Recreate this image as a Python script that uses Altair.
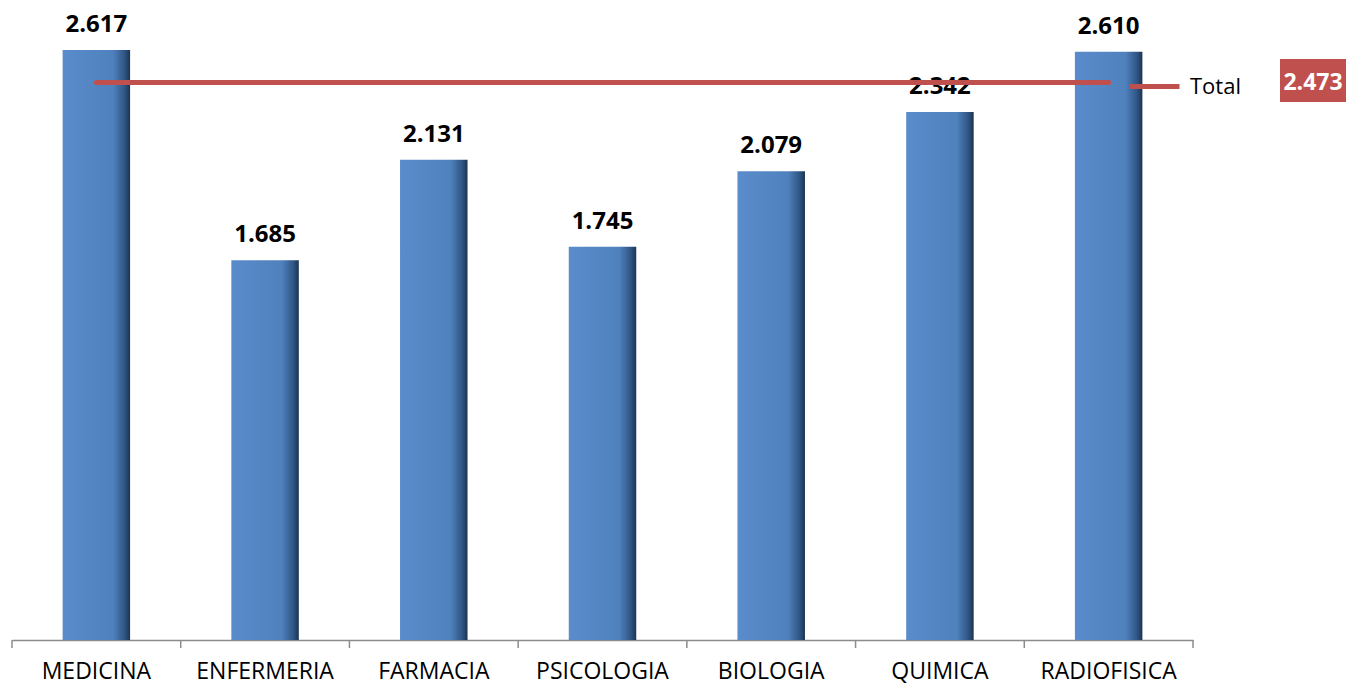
import altair as alt
import pandas as pd

categories = ["MEDICINA", "ENFERMERIA", "FARMACIA", "PSICOLOGIA", "BIOLOGIA", "QUIMICA", "RADIOFISICA"]
values = [2617, 1685, 2131, 1745, 2079, 2342, 2610]
total_value = 2473
total_name = "Total"

bars_df = pd.DataFrame({"cat": categories, "v": values})
total_df = pd.DataFrame({"cat": [categories[0], categories[-1]], "v": [total_value, total_value], "series": [total_name, total_name]})
box_df = pd.DataFrame({"v": [total_value]})
last_df = pd.DataFrame({"cat": [categories[-1]]})

FONT = "Open Sans"
W, H = 1181, 628
AXIS_GREY = "#8c8c8c"
PAD_IN, PAD_OUT = 0.6, 0.3
GAP = W / len(categories) * PAD_OUT  # distance from bar edge to category boundary

x_scale = alt.Scale(paddingInner=PAD_IN, paddingOuter=PAD_OUT)
x_enc = alt.X("cat:N", sort=categories, title=None, scale=x_scale,
              axis=alt.Axis(ticks=False, labelAngle=0, labelFontSize=23, labelFont=FONT,
                            labelColor="#000000", labelPadding=20,
                            domainColor=AXIS_GREY, domainWidth=1.5))
y_scale = alt.Scale(domain=[0, 2786], nice=False)

bar_fill = alt.Gradient(
    gradient="linear",
    stops=[alt.GradientStop(color="#5a8ccc", offset=0),
           alt.GradientStop(color="#4f81bd", offset=0.75),
           alt.GradientStop(color="#2f5584", offset=0.92),
           alt.GradientStop(color="#1c3350", offset=1)],
    x1=0, x2=1, y1=0, y2=0)

bars = alt.Chart(bars_df).mark_bar(color=bar_fill).encode(
    x=x_enc,
    y=alt.Y("v:Q", scale=y_scale, axis=None),
)

ticks_left = alt.Chart(bars_df).mark_rule(color=AXIS_GREY, strokeWidth=1.5, xOffset=-GAP).encode(
    x=alt.X("cat:N", sort=categories, bandPosition=0),
    y=alt.value(H), y2=alt.value(H + 8),
)
ticks_right = alt.Chart(last_df).mark_rule(color=AXIS_GREY, strokeWidth=1.5, xOffset=GAP).encode(
    x=alt.X("cat:N", sort=categories, bandPosition=1),
    y=alt.value(H), y2=alt.value(H + 8),
)

labels = alt.Chart(bars_df).transform_calculate(
    lbl="replace(format(datum.v, ','), ',', '.')"
).mark_text(font=FONT, fontSize=24, fontWeight="bold", baseline="bottom", dy=-13, color="#000000").encode(
    x=alt.X("cat:N", sort=categories),
    y=alt.Y("v:Q", scale=y_scale),
    text="lbl:N",
)

line = alt.Chart(total_df).mark_line(strokeWidth=5, strokeCap="round").encode(
    x=alt.X("cat:N", sort=categories),
    y=alt.Y("v:Q", scale=y_scale),
    color=alt.Color("series:N", scale=alt.Scale(range=["#C0504D"]),
                    legend=alt.Legend(title=None, orient="none", legendX=1115, legendY=47,
                                      symbolType="stroke", symbolStrokeWidth=5, symbolSize=2500,
                                      labelFont=FONT, labelFontSize=22, labelColor="#000000",
                                      labelOffset=8, padding=0)),
)

box = alt.Chart(box_df).mark_rect(color="#C0504D").encode(
    x=alt.value(1268), x2=alt.value(1334), y=alt.value(47), y2=alt.value(90),
)
box_text = alt.Chart(box_df).transform_calculate(
    lbl="replace(format(datum.v, ','), ',', '.')"
).mark_text(font=FONT, fontSize=23, fontWeight="bold", color="#ffffff", baseline="middle").encode(
    x=alt.value(1301),
    y=alt.Y("v:Q", scale=y_scale),
    text="lbl:N",
)

chart = alt.layer(bars, ticks_left, ticks_right, labels, line, box, box_text).properties(
    width=W, height=H,
    autosize=alt.AutoSizeParams(type="none"),
    padding={"left": 4, "top": 4, "right": 153, "bottom": 45},
).configure(background="#ffffff").configure_view(strokeWidth=0, stroke="transparent")

chart.save("out.html", embed_options={"renderer": "svg", "actions": False})
